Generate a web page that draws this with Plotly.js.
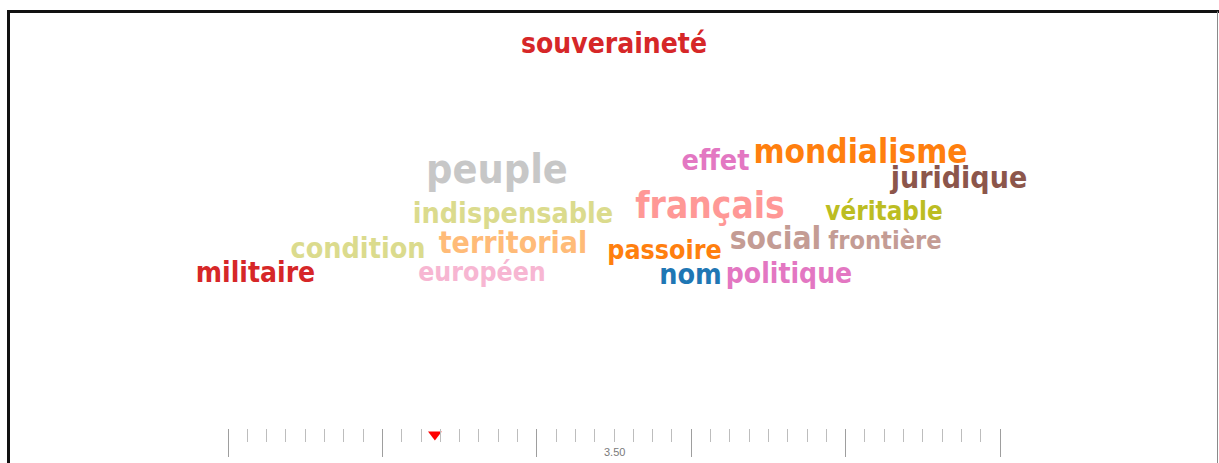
<!DOCTYPE html>
<html>
<head>
<meta charset="utf-8">
<script src="https://cdn.plot.ly/plotly-3.0.1.min.js"></script>
<style>
  html, body { margin: 0; padding: 0; background: #fff; }
  #cloud { width: 1219px; height: 463px; }
</style>
</head>
<body>
<div id="cloud"></div>
<script>
// words of the cloud, their weight (font size) and where the layout put them
var words = ['souveraineté', 'peuple', 'indispensable', 'condition', 'territorial',
    'militaire', 'européen', 'effet', 'mondialisme', 'juridique', 'français',
    'véritable', 'social', 'frontière', 'passoire', 'nom', 'politique'];
var weights = [28, 41, 28.5, 28.5, 30, 28, 26.5, 28.5, 33.2, 30, 36.8, 25.8, 31.5, 25.2, 26.6, 28.5, 28];
var wordX = [614, 497, 513, 358, 513, 255.5, 482, 715.5, 860.5, 959, 710, 884, 775.5, 885, 664.5, 690.5, 789];
var wordY = [46, 172.5, 216, 251, 245.5, 275, 274.5, 163, 154.5, 180.5, 209, 214, 241, 243, 252.5, 277, 276];
var wordColors = ['#d62728', '#c7c7c7', '#dbdb8d', '#dbdb8d', '#ffbb78',
    '#d62728', '#f7b6d2', '#e377c2', '#ff7f0e', '#8c564b', '#ff9896',
    '#bcbd22', '#c49c94', '#c49c94', '#ff7f0e', '#1f77b4', '#e377c2'];

// slider under the cloud
var sliderMin = 1;
var sliderMax = 6;
var sliderValue = 2.34;
var sliderLabel = '3.50';
var sliderLabelAt = 3.5;

var cloudFont = "'Liberation Sans Narrow', 'DejaVu Sans Condensed', Impact, sans-serif";

var data = [{
    x: wordX,
    y: wordY,
    text: words,
    type: 'scatter',
    mode: 'text',
    textposition: 'middle center',
    textfont: {
        family: cloudFont,
        size: weights,
        color: wordColors,
        weight: 700
    },
    hoverinfo: 'text',
    cliponaxis: false
},
    {
        x: [sliderValue],
        y: [28.5],
        xaxis: 'x2',
        yaxis: 'y2',
        type: 'scatter',
        mode: 'markers',
        marker: {
            symbol: 'triangle-down',
            size: 12,
            color: '#ff0000',
            line: {width: 0}
        },
        hoverinfo: 'x',
        cliponaxis: false
    }];

// 2px of slack on each end so the end ticks are not dropped
var pxPerUnit = 772 / (sliderMax - sliderMin);
var pad = 2 / pxPerUnit;

var layout = {
    width: 1219,
    height: 463,
    margin: {l: 0, r: 0, t: 0, b: 0},
    paper_bgcolor: '#ffffff',
    plot_bgcolor: 'rgba(0,0,0,0)',
    showlegend: false,
    xaxis: {
        range: [0, 1219],
        visible: false,
        fixedrange: true
    },
    yaxis: {
        range: [463, 0],
        visible: false,
        fixedrange: true
    },
    xaxis2: {
        anchor: 'y2',
        domain: [226 / 1219, 1002 / 1219],
        range: [sliderMin - pad, sliderMax + pad],
        side: 'top',
        showgrid: false,
        zeroline: false,
        showline: false,
        showticklabels: false,
        ticks: 'inside',
        tickmode: 'linear',
        tick0: sliderMin,
        dtick: 1,
        ticklen: 28,
        tickwidth: 1,
        tickcolor: '#9e9e9e',
        minor: {
            ticks: 'inside',
            dtick: 0.125,
            tick0: sliderMin,
            ticklen: 13,
            tickwidth: 1,
            tickcolor: '#bdbdbd',
            showgrid: false
        },
        fixedrange: true
    },
    yaxis2: {
        anchor: 'x2',
        domain: [0, 34 / 463],
        range: [0, 34],
        visible: false,
        fixedrange: true
    },
    annotations: [{
        x: sliderLabelAt,
        y: 11,
        xref: 'x2',
        yref: 'y2',
        text: sliderLabel,
        showarrow: false,
        font: {family: 'Liberation Sans, Arial, sans-serif', size: 11, color: '#7a7a7a'}
    }],
    shapes: [
        {type: 'line', xref: 'paper', yref: 'paper', x0: 8.5 / 1219, x1: 8.5 / 1219, y0: 0, y1: 1 - 10 / 463,
            line: {color: '#111111', width: 3}},
        {type: 'line', xref: 'paper', yref: 'paper', x0: 7 / 1219, x1: 1, y0: 1 - 11.5 / 463, y1: 1 - 11.5 / 463,
            line: {color: '#111111', width: 3}},
        {type: 'line', xref: 'paper', yref: 'paper', x0: 1217.5 / 1219, x1: 1217.5 / 1219, y0: 0, y1: 1 - 11.5 / 463,
            line: {color: '#8a8a8a', width: 1}}
    ]
};

Plotly.newPlot('cloud', data, layout, {displayModeBar: false, staticPlot: true});
</script>
</body>
</html>
